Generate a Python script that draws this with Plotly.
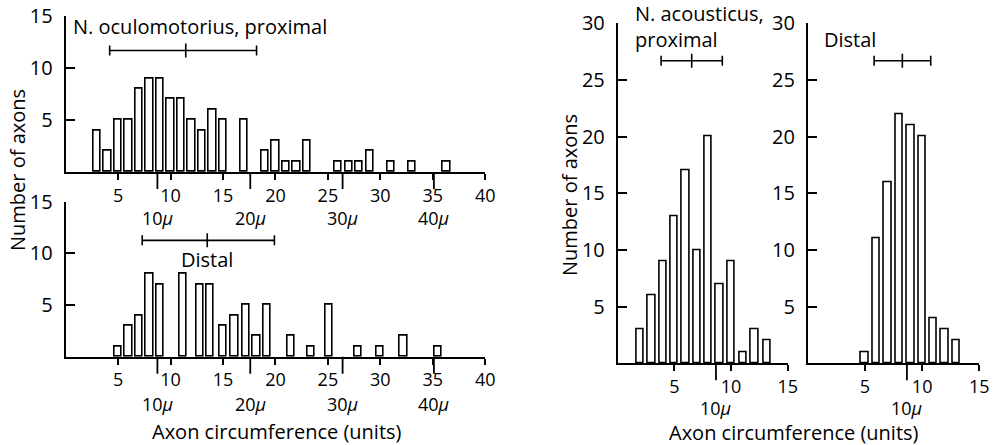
import plotly.graph_objects as go

# ---------------- data ----------------
oculo_prox_x = [3, 4, 5, 6, 7, 8, 9, 10, 11, 12, 13, 14, 15, 17, 19, 20, 21, 22, 23, 26, 27, 28, 29, 31, 33, 36.3]
oculo_prox_n = [4, 2, 5, 5, 8, 9, 9, 7, 7, 5, 4, 6, 5, 5, 2, 3, 1, 1, 3, 1, 1, 1, 2, 1, 1, 1]

oculo_dist_x = [5, 6, 7, 8, 9, 11.2, 12.8, 13.8, 15, 16.1, 17.2, 18.2, 19.2, 21.5, 23.4, 25.1, 27.9, 30, 32.2, 35.5]
oculo_dist_n = [1, 3, 4, 8, 7, 8, 7, 7, 3, 4, 5, 2, 5, 2, 1, 5, 1, 1, 2, 1]

acoust_prox_x = [2, 3, 4, 5, 6, 7, 8, 9, 10, 11.1, 12.1, 13.2]
acoust_prox_n = [3, 6, 9, 13, 17, 10, 20, 7, 9, 1, 3, 2]

acoust_dist_x = [5, 6, 7, 8, 9, 10, 11, 12, 13]
acoust_dist_n = [1, 11, 16, 22, 21, 20, 4, 3, 2]

# mean +/- SD bars: (low, mean, high)
oculo_prox_sd = [4.2, 11.45, 18.2]
oculo_dist_sd = [7.3, 13.5, 19.9]
acoust_prox_sd = [3.83, 6.53, 9.23]
acoust_dist_sd = [5.8, 8.27, 10.75]

# micron scale ticks (in units)
mu_ticks_left = [8.75, 17.6, 26.4, 35.1]
mu_labels_left = ["10", "20", "30", "40"]
mu_ticks_right = [8.67]
mu_labels_right = ["10"]

x_ticks_left = [5, 10, 15, 20, 25, 30, 35, 40]
y_ticks_left = [5, 10, 15]
x_ticks_right = [5, 10, 15]
y_ticks_right = [5, 10, 15, 20, 25, 30]

# ---------------- layout helpers ----------------
W, H = 994, 445
FONT = "Open Sans"
FS = 20     # titles / labels
TFS = 18    # tick labels and micron labels


def px(x):
    return x / W


def py(y):
    return 1 - y / H


fig = go.Figure()

panels = [
    # xs, ns, sd, xaxis, yaxis, bar width, sd level
    (oculo_prox_x, oculo_prox_n, oculo_prox_sd, "x", "y", 0.7, 11.66),
    (oculo_dist_x, oculo_dist_n, oculo_dist_sd, "x2", "y2", 0.7, 11.26),
    (acoust_prox_x, acoust_prox_n, acoust_prox_sd, "x3", "y3", 0.65, 26.7),
    (acoust_dist_x, acoust_dist_n, acoust_dist_sd, "x4", "y4", 0.65, 26.7),
]

for xs, ns, sd, xa, ya, bw, lev in panels:
    fig.add_trace(go.Bar(
        x=xs, y=ns, width=bw, xaxis=xa, yaxis=ya,
        marker=dict(color="white", line=dict(color="black", width=1.6)),
        showlegend=False, hoverinfo="skip",
    ))
    lo, mean, hi = sd
    fig.add_trace(go.Scatter(
        x=[mean], y=[lev], xaxis=xa, yaxis=ya, mode="markers",
        marker=dict(symbol="line-ns", size=10, color="black",
                    line=dict(color="black", width=1.6)),
        error_x=dict(type="data", symmetric=False, array=[hi - mean],
                     arrayminus=[mean - lo], color="black", thickness=1.6, width=5),
        showlegend=False, hoverinfo="skip",
    ))

axis_common = dict(showline=True, linecolor="black", linewidth=1.8,
                   showgrid=False, zeroline=False, ticks="outside",
                   tickcolor="black", tickwidth=1.6, ticklen=6,
                   automargin=False, ticklabelstandoff=0,
                   tickfont=dict(family=FONT, size=TFS, color="black"))
yaxis_common = dict(showline=True, linecolor="black", linewidth=1.8,
                    showgrid=False, zeroline=False, ticks="inside",
                    tickcolor="black", tickwidth=1.6, ticklen=9,
                    automargin=False, ticklabelstandoff=7,
                    tickfont=dict(family=FONT, size=FS, color="black"))

left_x_dom = [px(65.6), px(485.3)]
tl_y_dom = [py(172), py(15.7)]
bl_y_dom = [py(356.7), py(201.7)]
ra_x_dom = [px(617.7), px(787.7)]
rb_x_dom = [px(807.8), px(979.3)]
r_y_dom = [py(363.3), py(23.3)]

fig.update_layout(
    width=W, height=H,
    margin=dict(l=0, r=0, t=0, b=0, pad=0),
    paper_bgcolor="white", plot_bgcolor="white",
    font=dict(family=FONT, size=FS, color="black"),
    bargap=0,
    xaxis=dict(domain=left_x_dom, range=[0, 40], anchor="y", tickvals=x_ticks_left, **axis_common),
    yaxis=dict(domain=tl_y_dom, range=[0, 15], anchor="x", tickvals=y_ticks_left, **yaxis_common),
    xaxis2=dict(domain=left_x_dom, range=[0, 40], anchor="y2", tickvals=x_ticks_left, **axis_common),
    yaxis2=dict(domain=bl_y_dom, range=[0, 15], anchor="x2", tickvals=y_ticks_left, **yaxis_common),
    xaxis3=dict(domain=ra_x_dom, range=[0, 15], anchor="y3", tickvals=x_ticks_right, **axis_common),
    yaxis3=dict(domain=r_y_dom, range=[0, 30], anchor="x3", tickvals=y_ticks_right, **yaxis_common),
    xaxis4=dict(domain=rb_x_dom, range=[0, 15], anchor="y4", tickvals=x_ticks_right, **axis_common),
    yaxis4=dict(domain=r_y_dom, range=[0, 30], anchor="x4", tickvals=y_ticks_right, **yaxis_common),
)

shapes = []
annotations = []

# micron ticks and labels
mu_sets = [
    ("x", mu_ticks_left, mu_labels_left, 172, 218),
    ("x2", mu_ticks_left, mu_labels_left, 356.7, 404),
    ("x3", mu_ticks_right, mu_labels_right, 363.3, 408),
    ("x4", mu_ticks_right, mu_labels_right, 363.3, 408),
]
for xa, ticks, labels, base, labely in mu_sets:
    for t, lab in zip(ticks, labels):
        shapes.append(dict(type="line", xref=xa, yref="paper", x0=t, x1=t,
                           y0=py(base), y1=py(base + 17),
                           line=dict(color="black", width=1.8)))
        annotations.append(dict(xref=xa, yref="paper", x=t, y=py(labely),
                                text=lab + "<i>μ</i>", showarrow=False,
                                xanchor="center", yanchor="middle",
                                font=dict(family=FONT, size=TFS, color="black")))

txt = dict(family=FONT, size=FS, color="black")


def label(x, y, text, anchor="center", angle=0):
    return dict(xref="paper", yref="paper", x=px(x), y=py(y), text=text,
                showarrow=False, xanchor=anchor, yanchor="middle", align="left",
                textangle=angle, font=txt)


annotations += [
    label(71, 26.7, "N. oculomotorius, proximal", "left"),
    label(207, 259.3, "Distal"),
    label(633, 27, "N. acousticus,<br>proximal", "left"),
    label(822, 39.3, "Distal", "left"),
    label(17, 170, "Number of axons", angle=-90),
    label(570, 195, "Number of axons", angle=-90),
    label(277, 431, "Axon circumference (units)"),
    label(794, 432, "Axon circumference (units)"),
]

fig.update_layout(shapes=shapes, annotations=annotations)
fig.write_html("out.html", config={"displayModeBar": False},
               post_script="document.body.style.margin='0';")
